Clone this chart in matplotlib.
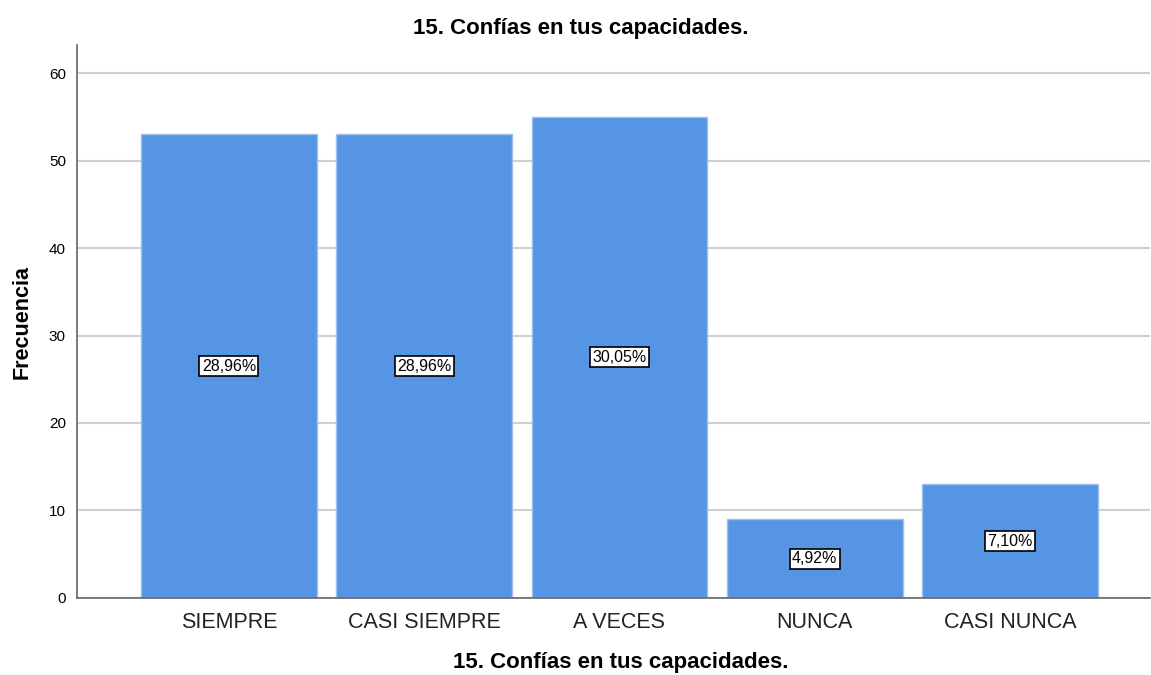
import numpy as np
import matplotlib.pyplot as plt

plt.rcParams['font.family'] = ['Liberation Sans', 'DejaVu Sans']

categories = ['SIEMPRE', 'CASI SIEMPRE', 'A VECES', 'NUNCA', 'CASI NUNCA']
counts = [53, 53, 55, 9, 13]
pct_labels = ['28,96%', '28,96%', '30,05%', '4,92%', '7,10%']
title = '15. Confías en tus capacidades.'

fig = plt.figure(figsize=(11.51, 6.75), dpi=100)
ax = fig.add_axes([0.0669, 0.1141, 0.9322, 0.8192])

x = np.arange(len(categories))
ax.bar(x, counts, width=0.9, color='#5595e3', edgecolor='#9fc0ee', linewidth=1, zorder=2)

# percentage labels in the middle of each bar
for xi, c, lab in zip(x, counts, pct_labels):
    ax.text(xi, c / 2, lab, ha='center', va='center', fontsize=11.5, zorder=3,
            bbox=dict(boxstyle='square,pad=0.15', facecolor='white', edgecolor='black', linewidth=1.2))

ax.set_xlim(-0.778, 4.717)
ax.set_ylim(0, 63.2)
ax.set_yticks([0, 10, 20, 30, 40, 50, 60])
ax.yaxis.grid(True, color='#d0d0d0', linewidth=1.5, zorder=0)
ax.set_axisbelow(True)

ax.set_xticks(x)
ax.set_xticklabels(categories, fontsize=15.5, color='#222222')
ax.tick_params(axis='x', length=0, pad=10)
ax.tick_params(axis='y', length=0, labelsize=11, pad=8)

for s in ['top', 'right']:
    ax.spines[s].set_visible(False)
for s in ['left', 'bottom']:
    ax.spines[s].set_color('#666666')
    ax.spines[s].set_linewidth(1.2)

ax.set_title(title, fontsize=16, fontweight='bold', pad=8, x=0.4697)
ax.set_xlabel(title, fontsize=16, fontweight='bold', labelpad=14, x=0.507)
ax.set_ylabel('Frecuencia', fontsize=15.5, fontweight='bold', labelpad=12)

fig.savefig('out.png', dpi=100)
